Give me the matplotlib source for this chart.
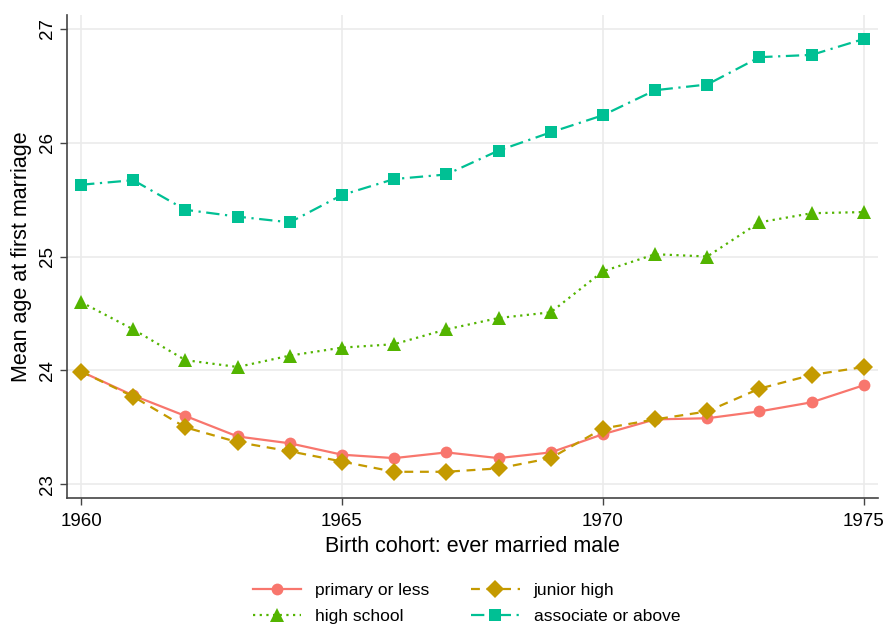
"""
Mean age at first marriage by birth cohort and education, ever married men.
"""

import matplotlib
matplotlib.use("Agg")
import matplotlib.pyplot as plt

#####################################
# Data
#####################################

years = list(range(1960, 1976))

primary = [23.99, 23.78, 23.60, 23.42, 23.36, 23.26, 23.23, 23.28,
           23.23, 23.28, 23.44, 23.57, 23.58, 23.64, 23.72, 23.87]
junior = [23.99, 23.77, 23.50, 23.37, 23.29, 23.20, 23.11, 23.11,
          23.14, 23.23, 23.49, 23.57, 23.64, 23.84, 23.96, 24.03]
high_school = [24.60, 24.36, 24.09, 24.03, 24.13, 24.20, 24.23, 24.36,
               24.46, 24.51, 24.87, 25.02, 25.00, 25.30, 25.38, 25.39]
associate = [25.63, 25.67, 25.41, 25.35, 25.30, 25.54, 25.68, 25.72,
             25.93, 26.09, 26.24, 26.46, 26.51, 26.75, 26.77, 26.91]

labels = ["primary or less", "junior high", "high school", "associate or above"]
x_ticks = [1960, 1965, 1970, 1975]
y_ticks = [23, 24, 25, 26, 27]

#####################################
# Styling
#####################################

plt.rcParams["font.family"] = ["Liberation Sans", "DejaVu Sans"]

series = [
    (primary, "#F8766D", "o", 8.5, "-"),
    (junior, "#C49A00", "D", 9, (0, (4, 3))),
    (high_school, "#53B400", "^", 10, (0, (1, 2))),
    (associate, "#00C094", "s", 9, (0, (6, 2.5, 1, 2.5))),
]

fig = plt.figure(figsize=(8.85, 6.26), dpi=100)
ax = fig.add_axes([0.0757, 0.2045, 0.9163, 0.7715])

handles = []
for values, color, marker, ms, ls in series:
    line, = ax.plot(years, values, color=color, marker=marker, markersize=ms,
                    linestyle=ls, linewidth=1.6, markeredgewidth=0, zorder=3)
    handles.append(line)

ax.set_xlim(1959.73, 1975.27)
ax.set_ylim(22.88, 27.12)
ax.set_xticks(x_ticks)
ax.set_yticks(y_ticks)
ax.set_yticklabels([str(v) for v in y_ticks], rotation=90, va="center")

ax.grid(True, color="#ebebeb", linewidth=1.2, zorder=0)
ax.set_axisbelow(True)

for side in ["top", "right"]:
    ax.spines[side].set_visible(False)
for side in ["left", "bottom"]:
    ax.spines[side].set_color("#444444")
    ax.spines[side].set_linewidth(1.2)

ax.tick_params(axis="both", direction="out", length=5, width=1.0,
               color="#444444", labelsize=13.5, labelcolor="black")
ax.tick_params(axis="x", pad=6)
ax.tick_params(axis="y", pad=3)

ax.set_xlabel("Birth cohort: ever married male", fontsize=15.5, labelpad=4)
ax.set_ylabel("Mean age at first marriage", fontsize=15.5, labelpad=5)

# order so the legend reads row-wise like the reference
order = [0, 2, 1, 3]
fig.legend([handles[i] for i in order], [labels[i] for i in order],
           loc="center", bbox_to_anchor=(0.527, 0.036), ncol=2,
           frameon=False, fontsize=12.5, handlelength=2.8,
           handletextpad=0.8, columnspacing=2.4, labelspacing=0.62)

fig.savefig("out.png", dpi=100)
